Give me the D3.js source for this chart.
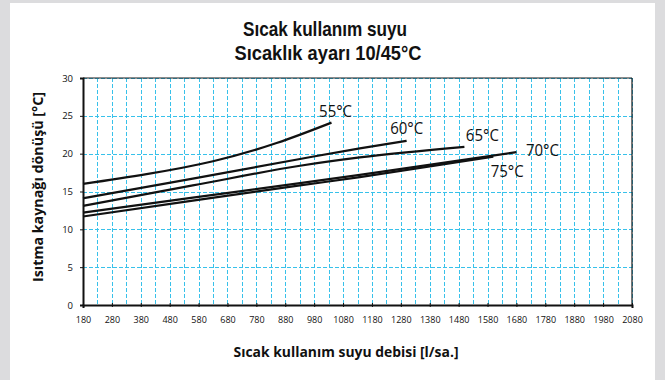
<!DOCTYPE html>
<html>
<head>
<meta charset="utf-8">
<script src="https://cdn.jsdelivr.net/npm/d3@7"></script>
<style>
  html, body { margin: 0; padding: 0; background: #dcdcde; }
  svg { display: block; }
  text { font-family: "Open Sans", "Noto Sans", sans-serif; fill: #111; }
</style>
</head>
<body>
<svg id="chart" width="665" height="380"></svg>
<script>
// Flow (l/h) breakpoints and return temperatures (°C) for each setpoint curve
const series = ["55°C", "60°C", "65°C", "70°C", "75°C"];
const flow55 = [180, 400, 630, 850, 1040];
const temp55 = [16.0, 17.3, 19.0, 21.4, 24.1];
const flow60 = [180, 560, 931, 1138, 1300];
const temp60 = [14.1, 16.7, 19.3, 20.7, 21.7];
const flow65 = [180, 560, 931, 1138, 1500];
const temp65 = [13.1, 15.8, 18.4, 19.5, 20.9];
const flow70 = [180, 560, 931, 1138, 1680];
const temp70 = [12.2, 14.2, 16.1, 17.2, 20.2];
const flow75 = [180, 560, 931, 1138, 1600];
const temp75 = [11.7, 13.8, 15.8, 16.9, 19.6];

const xTicks = d3.range(180, 2081, 100);
const xGrid = d3.range(230, 2081, 50);
const yTicks = [0, 5, 10, 15, 20, 25, 30];

const title1 = "Sıcak kullanım suyu";
const title2 = "Sıcaklık ayarı 10/45°C";
const xTitle = "Sıcak kullanım suyu debisi [l/sa.]";
const yTitle = "Isıtma kaynağı dönüşü [°C]";

const flows = [flow55, flow60, flow65, flow70, flow75];
const temps = [temp55, temp60, temp65, temp70, temp75];
// label anchor: [flow, temp] of the text's left baseline
const labelFlow = [997, 1243, 1505, 1713, 1591];
const labelTemp = [24.9, 22.6, 21.7, 19.7, 16.9];

const svg = d3.select("#chart");

// white panel
svg.append("rect").attr("x", 10).attr("y", 3).attr("width", 645).attr("height", 377).attr("fill", "#fff");

const x = d3.scaleLinear().domain([180, 2080]).range([83, 632]);
const y = d3.scaleLinear().domain([0, 30]).range([305, 78]);

// grid
const grid = svg.append("g").attr("stroke", "#38c1ea").attr("stroke-width", 1).attr("stroke-dasharray", "4,2");
grid.selectAll("line.v").data(xGrid).join("line")
  .attr("x1", d => Math.round(x(d)) + 0.5).attr("x2", d => Math.round(x(d)) + 0.5)
  .attr("y1", y(30)).attr("y2", y(0));
grid.selectAll("line.h").data(yTicks.slice(1)).join("line")
  .attr("x1", x(180)).attr("x2", x(2080))
  .attr("y1", d => Math.round(y(d)) + 0.5).attr("y2", d => Math.round(y(d)) + 0.5);

// frame
svg.append("line").attr("x1", x(180)).attr("x2", x(2080)).attr("y1", y(30)).attr("y2", y(30))
  .attr("stroke", "#1a1a1a").attr("stroke-width", 1.2);
svg.append("line").attr("x1", x(2080)).attr("x2", x(2080)).attr("y1", y(30)).attr("y2", y(0))
  .attr("stroke", "#1a1a1a").attr("stroke-width", 1.2);

// axes
const xAxis = d3.axisBottom(x).tickValues(xTicks).tickSize(3).tickPadding(9).tickFormat(d3.format("d"));
const gx = svg.append("g").attr("transform", `translate(0,${y(0)})`).call(xAxis);
gx.select(".domain").attr("stroke", "#111").attr("stroke-width", 2);
gx.selectAll(".tick line").attr("stroke", "#111").attr("y1", -2).attr("y2", 2);
gx.selectAll(".tick text").attr("font-size", 9).attr("font-family", "Open Sans").attr("fill", "#111");

const yAxis = d3.axisLeft(y).tickValues(yTicks).tickSize(3).tickPadding(7);
const gy = svg.append("g").attr("transform", `translate(${x(180)},0)`).call(yAxis);
gy.select(".domain").attr("stroke", "#111").attr("stroke-width", 2);
gy.selectAll(".tick line").attr("stroke", "#111");
gy.selectAll(".tick text").attr("font-size", 9.5).attr("font-family", "Open Sans").attr("fill", "#111");

// curves: the 55°C curve bends upward, the others are nearly straight
const smooth = d3.line().x(d => x(d[0])).y(d => y(d[1])).curve(d3.curveNatural);
const straightish = d3.line().x(d => x(d[0])).y(d => y(d[1])).curve(d3.curveMonotoneX);
series.forEach((name, i) => {
  const pts = flows[i].map((f, j) => [f, temps[i][j]]);
  svg.append("path").datum(pts).attr("d", i === 0 ? smooth : straightish)
    .attr("fill", "none").attr("stroke", "#111").attr("stroke-width", 2.2);
  svg.append("text").attr("x", x(labelFlow[i])).attr("y", y(labelTemp[i]))
    .attr("font-size", 16.5).attr("textLength", 33).attr("lengthAdjust", "spacingAndGlyphs")
    .text(name);
});

// titles
const titleFont = "'Liberation Sans', Arial, sans-serif";
svg.append("text").attr("x", 325).attr("y", 36).attr("text-anchor", "middle")
  .style("font-family", titleFont).attr("font-size", 20.5).attr("font-weight", 700)
  .attr("textLength", 164).attr("lengthAdjust", "spacingAndGlyphs").text(title1);
svg.append("text").attr("x", 328).attr("y", 59.5).attr("text-anchor", "middle")
  .style("font-family", titleFont).attr("font-size", 20.5).attr("font-weight", 700)
  .attr("textLength", 187).attr("lengthAdjust", "spacingAndGlyphs").text(title2);

svg.append("text").attr("x", 346).attr("y", 357).attr("text-anchor", "middle")
  .attr("font-size", 14).attr("font-weight", 700)
  .attr("textLength", 225).attr("lengthAdjust", "spacingAndGlyphs").text(xTitle);

svg.append("text").attr("transform", "translate(43,187) rotate(-90)").attr("text-anchor", "middle")
  .attr("font-size", 14).attr("font-weight", 700)
  .attr("textLength", 190).attr("lengthAdjust", "spacingAndGlyphs").text(yTitle);
</script>
</body>
</html>
